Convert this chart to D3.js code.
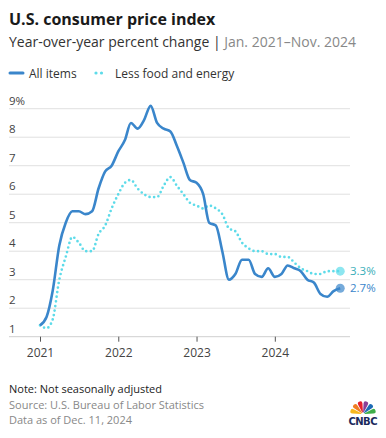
<!DOCTYPE html>
<html lang="en">
<head>
<meta charset="UTF-8">
<title>U.S. consumer price index</title>
<script src="https://d3js.org/d3.v7.min.js"></script>
<style>
    body { margin: 0; background: #fff; font-family: "Open Sans", Lato, sans-serif; }
</style>
</head>
<body>
<div id="chart"></div>
<script>
    // monthly YoY % change, Jan 2021 - Nov 2024
    var allItems = [
        1.4, 1.7, 2.6, 4.2, 5.0, 5.4, 5.4, 5.3, 5.4, 6.2, 6.8, 7.0,
        7.5, 7.9, 8.5, 8.3, 8.6, 9.1, 8.5, 8.3, 8.2, 7.7, 7.1, 6.5,
        6.4, 6.0, 5.0, 4.9, 4.0, 3.0, 3.2, 3.7, 3.7, 3.2, 3.1, 3.4,
        3.1, 3.2, 3.5, 3.4, 3.3, 3.0, 2.9, 2.5, 2.4, 2.6, 2.7
    ];
    var lessFoodEnergy = [
        1.4, 1.3, 1.6, 3.0, 3.8, 4.5, 4.3, 4.0, 4.0, 4.6, 4.9, 5.5,
        6.0, 6.4, 6.5, 6.2, 6.0, 5.9, 5.9, 6.3, 6.6, 6.3, 6.0, 5.7,
        5.6, 5.5, 5.6, 5.5, 5.3, 4.8, 4.7, 4.3, 4.1, 4.0, 4.0, 3.9,
        3.9, 3.8, 3.8, 3.6, 3.4, 3.3, 3.2, 3.2, 3.3, 3.3, 3.3
    ];
    var yTicks = [1, 2, 3, 4, 5, 6, 7, 8, 9];
    var yearTicks = [2021, 2022, 2023, 2024];

    var w = 386, h = 438;
    var blue = '#3a86cb', cyan = '#5ddbe9';
    var font = '"Open Sans", Lato, sans-serif';

    var svg = d3.select('#chart').append('svg')
        .attr('width', w)
        .attr('height', h)
        .attr('font-family', font);

    // title block
    svg.append('text').attr('x', 9).attr('y', 25)
        .text('U.S. consumer price index')
        .attr('font-size', '16px').attr('font-weight', 'bold').style('fill', '#1a1a1a');

    var sub = svg.append('text').attr('x', 9).attr('y', 47)
        .attr('font-size', '14px').style('fill', '#333');
    sub.append('tspan').text('Year-over-year percent change | ');
    sub.append('tspan').text('Jan. 2021\u2013Nov. 2024').style('fill', '#888');

    // legend
    var legend = svg.append('g');
    legend.append('line')
        .attr('x1', 10).attr('x2', 23).attr('y1', 73).attr('y2', 73)
        .style('stroke', blue).style('stroke-width', 3).style('stroke-linecap', 'round');
    legend.append('text').attr('x', 29).attr('y', 77.5).text('All items')
        .attr('font-size', '12px').style('fill', '#333');
    legend.append('circle').attr('cx', 96).attr('cy', 73).attr('r', 1.6).style('fill', cyan);
    legend.append('circle').attr('cx', 101.5).attr('cy', 73).attr('r', 1.6).style('fill', cyan);
    legend.append('text').attr('x', 115).attr('y', 77.5).text('Less food and energy')
        .attr('font-size', '12px').style('fill', '#333');

    // scales
    var xScale = d3.scaleTime()
        .domain([new Date(2021, 0, 1), new Date(2025, 0, 1)])
        .range([40, 353.3]);
    var yScale = d3.scaleLinear()
        .domain([1, 9])
        .range([336.7, 108.7]);

    function monthDate(i) {
        return new Date(2021, i, 1);
    }

    // gridlines + y labels
    var grid = svg.append('g');
    grid.selectAll('line')
        .data(yTicks)
        .enter()
        .append('line')
        .attr('x1', 9).attr('x2', 350)
        .attr('y1', function(d){ return yScale(d); })
        .attr('y2', function(d){ return yScale(d); })
        .style('stroke', function(d){ return d === 1 ? '#cfcfcf' : '#e0e0e0'; })
        .style('stroke-width', 1);
    grid.selectAll('text')
        .data(yTicks)
        .enter()
        .append('text')
        .attr('x', 9)
        .attr('y', function(d){ return yScale(d) - 4; })
        .text(function(d){ return d === 9 ? '9%' : d; })
        .attr('font-size', '11.5px')
        .style('fill', '#444');

    // x axis
    var xAxis = d3.axisBottom(xScale)
        .tickValues(yearTicks.map(function(y){ return new Date(y, 0, 1); }))
        .tickFormat(d3.timeFormat('%Y'))
        .tickSize(5)
        .tickPadding(7);
    var gx = svg.append('g')
        .attr('transform', 'translate(0,' + yScale(1) + ')')
        .call(xAxis);
    gx.select('.domain').remove();
    gx.selectAll('line').style('stroke', '#555');
    gx.selectAll('text')
        .attr('font-family', font)
        .attr('font-size', '12px')
        .style('fill', '#444');

    var line = d3.line()
        .x(function(d, i){ return xScale(monthDate(i)); })
        .y(function(d){ return yScale(d); })
        .curve(d3.curveMonotoneX);

    svg.append('path')
        .datum(lessFoodEnergy)
        .attr('d', line)
        .style('fill', 'none')
        .style('stroke', cyan)
        .style('stroke-width', 2.7)
        .style('stroke-linecap', 'round')
        .style('stroke-dasharray', '0,4.6');

    svg.append('path')
        .datum(allItems)
        .attr('d', line)
        .style('fill', 'none')
        .style('stroke', blue)
        .style('stroke-width', 2.6)
        .style('stroke-linejoin', 'round');

    // end markers + labels
    var last = allItems.length - 1;
    var ends = [
        {v: lessFoodEnergy[last], color: cyan, label: '#3aaeb9'},
        {v: allItems[last], color: blue, label: blue}
    ];
    ends.forEach(function(e){
        svg.append('circle')
            .attr('cx', xScale(monthDate(last)))
            .attr('cy', yScale(e.v))
            .attr('r', 4.5)
            .style('fill', e.color)
            .style('opacity', 0.7);
        svg.append('text')
            .attr('x', 350)
            .attr('y', yScale(e.v) + 4)
            .text(e.v.toFixed(1) + '%')
            .attr('font-size', '11.5px')
            .style('fill', e.label);
    });

    // footer
    svg.append('text').attr('x', 9).attr('y', 393)
        .text('Note: Not seasonally adjusted')
        .attr('font-size', '11px').style('fill', '#222');
    svg.append('text').attr('x', 9).attr('y', 409)
        .text('Source: U.S. Bureau of Labor Statistics')
        .attr('font-size', '11px').style('fill', '#888');
    svg.append('text').attr('x', 9).attr('y', 424)
        .text('Data as of Dec. 11, 2024')
        .attr('font-size', '11px').style('fill', '#888');

    // CNBC peacock
    var logo = svg.append('g').attr('transform', 'translate(363,414)');
    var feathers = ['#f7b71d', '#ef7d22', '#e4202e', '#8b3e96', '#1d6bb5', '#3fae49'];
    var arc = d3.arc().innerRadius(1.5).outerRadius(13).cornerRadius(3);
    feathers.forEach(function(c, i){
        var a0 = -Math.PI / 2 + i * Math.PI / 6;
        logo.append('path')
            .attr('d', arc({startAngle: a0 + 0.05, endAngle: a0 + Math.PI / 6 - 0.05}))
            .style('fill', c);
    });
    logo.append('text').attr('x', 0).attr('y', 10.5)
        .attr('text-anchor', 'middle')
        .text('CNBC')
        .attr('font-size', '10px').attr('font-weight', 'bold')
        .attr('font-family', '"DejaVu Sans", sans-serif')
        .attr('textLength', 29)
        .style('fill', '#1b2a5c');
</script>
</body>
</html>
